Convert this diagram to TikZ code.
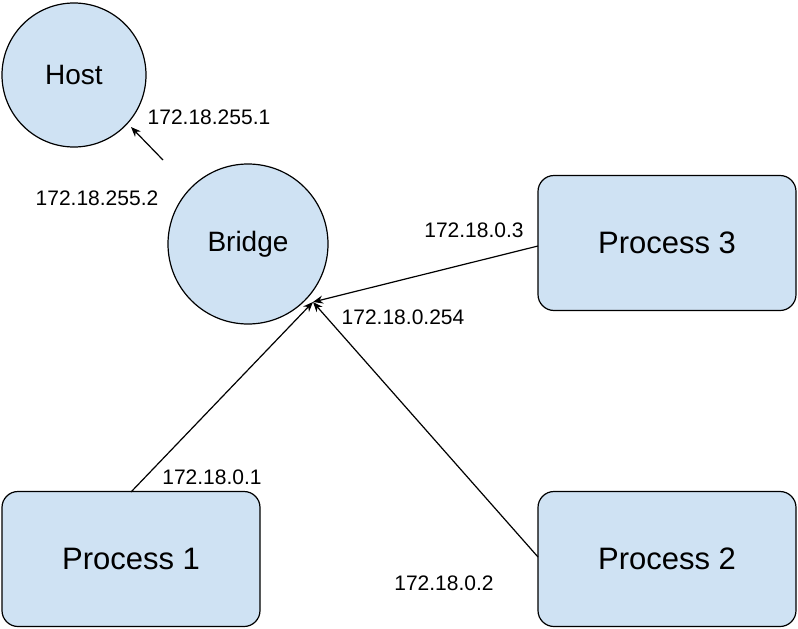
\documentclass[tikz,border=0pt]{standalone}
\usepackage{fontspec}
\setmainfont{Liberation Sans}
\usetikzlibrary{arrows.meta}
\definecolor{nodefill}{HTML}{CFE2F3}
\begin{document}
\begin{tikzpicture}[x=1pt,y=-1pt,
  circ/.style={circle,draw=black,fill=nodefill,line width=1.2pt,font=\fontsize{28}{32}\selectfont},
  box/.style={rectangle,rounded corners=16pt,draw=black,fill=nodefill,line width=1.2pt,minimum width=258pt,minimum height=135pt,font=\fontsize{31}{36}\selectfont},
  lbl/.style={font=\fontsize{21}{25}\selectfont,inner sep=0pt},
  arr/.style={-{Stealth[length=10pt,width=8pt]},line width=1.2pt}]
\useasboundingbox (0,0) rectangle (798,629);
\node[circ,minimum size=144pt] (host) at (74,75) {Host};
\node[circ,minimum size=160pt] (bridge) at (248,244) {Bridge};
\node[box] (p3) at (667,243) {Process 3};
\node[box] (p1) at (131,559) {Process 1};
\node[box] (p2) at (667,559) {Process 2};
\coordinate (bin) at (313,302);
\coordinate (b1) at (163,160);
\coordinate (hin) at (131,127);
\coordinate (p1o) at (131,492);
\coordinate (p3o) at (538,246);
\coordinate (p2o) at (538,557);
\draw[arr] (b1) -- (hin);
\draw[arr] (p3o) -- (bin);
\draw[arr] (p1o) -- (bin);
\draw[arr] (p2o) -- (bin);
\node[lbl] (l1) at (209,117) {172.18.255.1};
\node[lbl] (l2) at (97,198) {172.18.255.2};
\node[lbl] (l3) at (474,230) {172.18.0.3};
\node[lbl] (l4) at (403,317) {172.18.0.254};
\node[lbl] (l5) at (212,477) {172.18.0.1};
\node[lbl] (l6) at (444,583) {172.18.0.2};
\end{tikzpicture}
\end{document}
